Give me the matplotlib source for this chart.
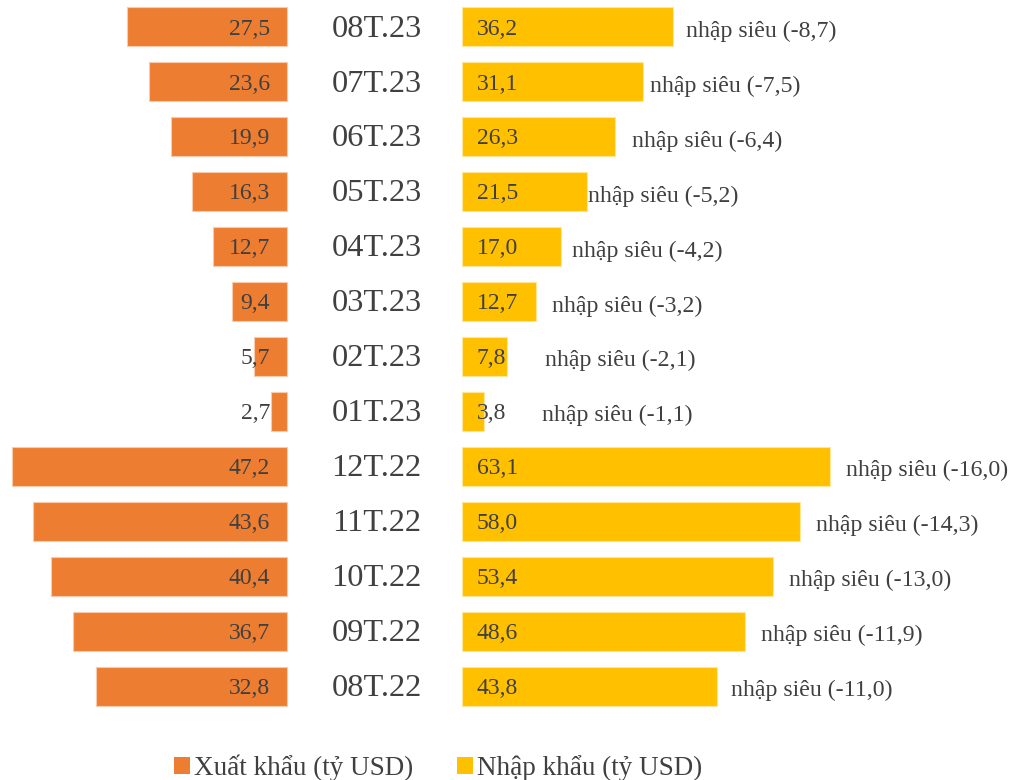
import matplotlib.pyplot as plt
from matplotlib.patches import Patch

# --- data (top row first) ---
months = ["08T.23", "07T.23", "06T.23", "05T.23", "04T.23", "03T.23", "02T.23",
          "01T.23", "12T.22", "11T.22", "10T.22", "09T.22", "08T.22"]
xuat_khau = [27.5, 23.6, 19.9, 16.3, 12.7, 9.4, 5.7, 2.7, 47.2, 43.6, 40.4, 36.7, 32.8]
nhap_khau = [36.2, 31.1, 26.3, 21.5, 17.0, 12.7, 7.8, 3.8, 63.1, 58.0, 53.4, 48.6, 43.8]
nhap_sieu = [-8.7, -7.5, -6.4, -5.2, -4.2, -3.2, -2.1, -1.1, -16.0, -14.3, -13.0, -11.9, -11.0]

# --- layout ---
GAP = 30.0            # space between the two bar groups (data units)
NS_LABEL_X = [38.4, 32.2, 29.2, 21.6, 18.9, 15.4, 14.2, 13.7, 65.9, 60.7, 56.1, 51.3, 46.1]
ORANGE = "#ED7D31"
YELLOW = "#FFC000"
TXT = "#404040"


def fmt(v):
    return f"{v:.1f}".replace(".", ",")


plt.rcParams['font.family'] = ['Liberation Serif', 'DejaVu Serif']

fig = plt.figure(figsize=(10.14, 7.80), dpi=100)
ax = fig.add_axes([0, 0, 1, 1])
ax.set_xlim(-49.2, 124.7)
ax.set_ylim(13.71, -0.49)
ax.axis("off")

ys = list(range(len(months)))
ax.barh(ys, [-v for v in xuat_khau], height=0.71, color=ORANGE,
        edgecolor="#F8CBAD", linewidth=0.8)
ax.barh(ys, nhap_khau, left=GAP, height=0.71, color=YELLOW,
        edgecolor="#FFE699", linewidth=0.8)

for i, m in enumerate(months):
    ax.text(15.4, i + 0.04, m, ha="center", va="center", fontsize=23.3, color=TXT)
    ax.text(-2.9, i + 0.04, fmt(xuat_khau[i]), ha="right", va="center",
            fontsize=17, color=TXT)
    ax.text(GAP + 2.6, i + 0.04, fmt(nhap_khau[i]), ha="left", va="center",
            fontsize=17, color=TXT)
    ax.text(GAP + NS_LABEL_X[i], i + 0.08, f"nhập siêu ({fmt(nhap_sieu[i])})",
            ha="left", va="center", fontsize=17.2, color=TXT)

handles = [Patch(facecolor=ORANGE, label="Xuất khẩu (tỷ USD)"),
           Patch(facecolor=YELLOW, label="Nhập khẩu (tỷ USD)")]
leg = fig.legend(handles=handles, loc="center", bbox_to_anchor=(0.432, 0.016),
                 ncol=2, frameon=False, fontsize=19.5, handlelength=0.6,
                 handleheight=0.6, handletextpad=0.15, columnspacing=1.6,
                 labelcolor=TXT)

fig.savefig("out.png", dpi=100)
